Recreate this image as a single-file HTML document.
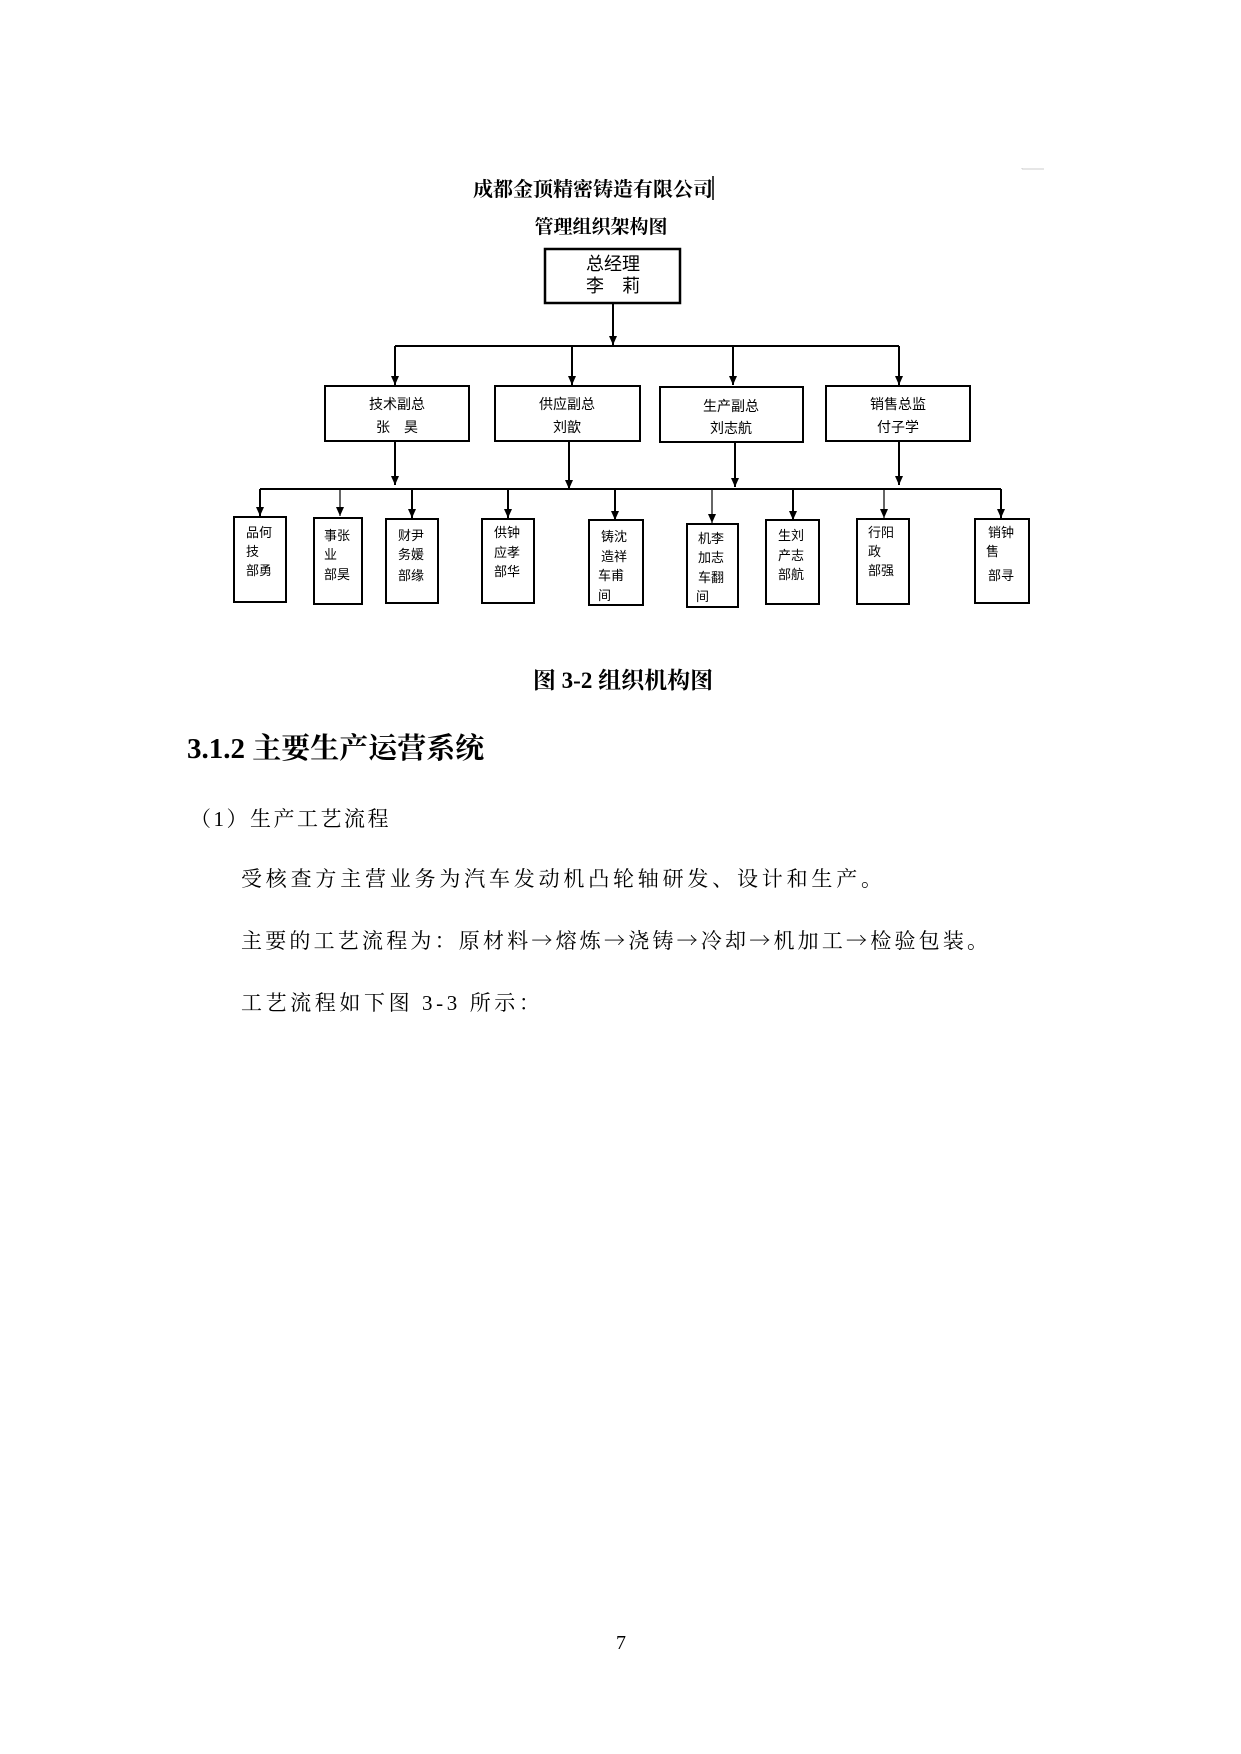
<!DOCTYPE html>
<html><head><meta charset="utf-8"><style>
body{margin:0;background:#fff;}
.p{position:relative;width:1241px;height:1754px;overflow:hidden;font-family:"Liberation Serif","Noto Serif CJK SC",serif;color:#000;}
.t{position:absolute;white-space:nowrap;}
.ar{font-family:"Noto Serif CJK SC",serif;}
</style></head><body><div class="p">
<svg width="1241" height="1754" style="position:absolute;left:0;top:0" font-family="'Liberation Sans','Noto Sans CJK SC',sans-serif">
<defs><marker id="a" markerWidth="10" markerHeight="8" refX="9" refY="4" orient="auto" markerUnits="userSpaceOnUse"><path d="M0,0 L9,4 L0,8 z" fill="#000"/></marker></defs>
<path d="M1022,168 v1 M1022,169 h22" stroke="#ccc" fill="none"/>
<text x="593" y="196" font-size="20" text-anchor="middle" font-weight="bold" font-family="'Liberation Serif','Noto Serif CJK SC',serif">成都金顶精密铸造有限公司</text>
<line x1="713" y1="176" x2="713" y2="200" stroke="#000" stroke-width="1.5"/>
<text x="601" y="233" font-size="19" text-anchor="middle" font-weight="bold" font-family="'Liberation Serif','Noto Serif CJK SC',serif">管理组织架构图</text>
<rect x="545" y="249" width="135" height="54" fill="none" stroke="#000" stroke-width="2.5"/>
<text x="613" y="270" font-size="18" text-anchor="middle">总经理</text>
<text x="613" y="292" font-size="18" text-anchor="middle">李　莉</text>
<g stroke="#000" stroke-width="2" fill="none">
<line x1="613" y1="303" x2="613" y2="345" marker-end="url(#a)"/>
<line x1="395" y1="346" x2="899" y2="346"/>
<line x1="395" y1="346" x2="395" y2="385" marker-end="url(#a)"/>
<line x1="572" y1="346" x2="572" y2="385" marker-end="url(#a)"/>
<line x1="733" y1="346" x2="733" y2="385" marker-end="url(#a)"/>
<line x1="899" y1="346" x2="899" y2="385" marker-end="url(#a)"/>
<rect x="325" y="386" width="144" height="55"/>
<rect x="495" y="386" width="145" height="55"/>
<rect x="660" y="387" width="143" height="55"/>
<rect x="826" y="386" width="144" height="55"/>
<line x1="395" y1="441" x2="395" y2="485" marker-end="url(#a)"/>
<line x1="569" y1="441" x2="569" y2="489" marker-end="url(#a)"/>
<line x1="735" y1="442" x2="735" y2="487" marker-end="url(#a)"/>
<line x1="899" y1="441" x2="899" y2="485" marker-end="url(#a)"/>
<line x1="260" y1="489" x2="1001" y2="489"/>
<line x1="260" y1="489" x2="260" y2="516" marker-end="url(#a)"/>
<line x1="340" y1="489" x2="340" y2="516" stroke-width="1.2" marker-end="url(#a)"/>
<line x1="412" y1="489" x2="412" y2="518" marker-end="url(#a)"/>
<line x1="508" y1="489" x2="508" y2="518" marker-end="url(#a)"/>
<line x1="615" y1="489" x2="615" y2="520" marker-end="url(#a)"/>
<line x1="712" y1="489" x2="712" y2="523" stroke-width="1.2" marker-end="url(#a)"/>
<line x1="793" y1="489" x2="793" y2="520" marker-end="url(#a)"/>
<line x1="884" y1="489" x2="884" y2="518" stroke-width="1.2" marker-end="url(#a)"/>
<line x1="1001" y1="489" x2="1001" y2="518" marker-end="url(#a)"/>
<rect x="234" y="517" width="52" height="85"/>
<rect x="314" y="518" width="48" height="86"/>
<rect x="386" y="519" width="52" height="84"/>
<rect x="482" y="519" width="52" height="84"/>
<rect x="589" y="520" width="54" height="85"/>
<rect x="687" y="524" width="51" height="83"/>
<rect x="766" y="520" width="53" height="84"/>
<rect x="857" y="519" width="52" height="85"/>
<rect x="975" y="519" width="54" height="84"/>
</g>
<g font-size="14" text-anchor="middle">
<text x="397" y="409">技术副总</text><text x="397" y="432">张　昊</text>
<text x="567" y="409">供应副总</text><text x="567" y="432">刘歆</text>
<text x="731" y="411">生产副总</text><text x="731" y="433">刘志航</text>
<text x="898" y="409">销售总监</text><text x="898" y="432">付子学</text>
</g>
<g font-size="13">
<text x="246" y="537">品何</text><text x="246" y="556">技</text><text x="246" y="575">部勇</text>
<text x="324" y="540">事张</text><text x="324" y="559">业</text><text x="324" y="579">部昊</text>
<text x="398" y="540">财尹</text><text x="398" y="559">务媛</text><text x="398" y="580">部缘</text>
<text x="494" y="537">供钟</text><text x="494" y="557">应孝</text><text x="494" y="576">部华</text>
<text x="601" y="541">铸沈</text><text x="601" y="561">造祥</text><text x="598" y="580">车甫</text><text x="598" y="600">间</text>
<text x="698" y="543">机李</text><text x="698" y="562">加志</text><text x="698" y="582">车翻</text><text x="696" y="601">间</text>
<text x="778" y="540">生刘</text><text x="778" y="560">产志</text><text x="778" y="579">部航</text>
<text x="868" y="537">行阳</text><text x="868" y="556">政</text><text x="868" y="575">部强</text>
<text x="988" y="537">销钟</text><text x="986" y="556">售</text><text x="988" y="580">部寻</text>
</g>
</svg>
<div class="t" style="left:0;width:1246px;text-align:center;top:662px;font-size:23px;font-weight:bold;">图 3-2 组织机构图</div>
<div class="t" style="left:187px;top:726px;font-size:29px;font-weight:bold;">3.1.2 主要生产运营系统</div>
<div class="t" style="left:190px;top:803px;font-size:21px;letter-spacing:2.5px;">（1）生产工艺流程</div>
<div class="t" style="left:241px;top:863px;font-size:21px;letter-spacing:3.8px;">受核查方主营业务为汽车发动机凸轮轴研发、设计和生产。</div>
<div class="t" style="left:241px;top:925px;font-size:21px;letter-spacing:3.2px;">主要的工艺流程为：原材料<span class="ar">→</span>熔炼<span class="ar">→</span>浇铸<span class="ar">→</span>冷却<span class="ar">→</span>机加工<span class="ar">→</span>检验包装。</div>
<div class="t" style="left:241px;top:987px;font-size:21px;letter-spacing:3.6px;">工艺流程如下图 3-3 所示：</div>
<div class="t" style="left:616px;top:1632px;font-size:20px;">7</div>
</div></body></html>
